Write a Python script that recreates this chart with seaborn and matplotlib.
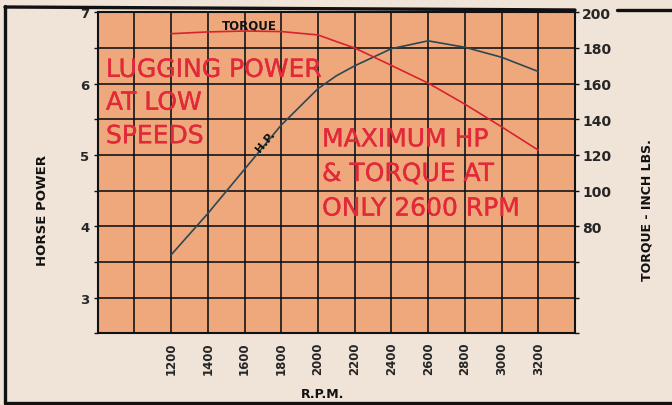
import matplotlib
matplotlib.use("Agg")
import matplotlib.pyplot as plt
from matplotlib.lines import Line2D
import matplotlib.patheffects as pe
import seaborn as sns
import numpy as np
import pandas as pd

# ---- data ----
rpm = [1200, 1400, 1600, 1800, 2000, 2100, 2200, 2400, 2600, 2800, 3000, 3200]
hp = [3.60, 4.18, 4.80, 5.42, 5.93, 6.11, 6.25, 6.49, 6.60, 6.51, 6.37, 6.17]
torque = [188.0, 189.0, 189.5, 189.2, 187.3, 183.6, 180.0, 170.2, 160.3, 148.5, 135.8, 122.7]

x_ticks = [800, 1000, 1200, 1400, 1600, 1800, 2000, 2200, 2400, 2600, 2800, 3000, 3200, 3400]
x_labels = ["", "", "1200", "1400", "1600", "1800", "2000", "2200", "2400", "2600", "2800", "3000", "3200", ""]
hp_ticks = [2.5, 3, 3.5, 4, 4.5, 5, 5.5, 6, 6.5, 7]
hp_labels = ["", "3", "", "4", "", "5", "", "6", "", "7"]
tq_ticks = [20, 40, 60, 80, 100, 120, 140, 160, 180, 200]
tq_labels = ["", "", "", "80", "100", "120", "140", "160", "180", "200"]

df = pd.DataFrame({"rpm": rpm, "hp": hp, "torque": torque})

sns.set_style("white")
plt.rcParams["font.family"] = ["DejaVu Sans"]

W, H = 672, 406
fig = plt.figure(figsize=(W / 100, H / 100), dpi=100)
fig.patch.set_facecolor("#f0e3d8")

left, right, top, bottom = 97.7, 575, 13.3, 334.3
ax = fig.add_axes([left / W, (H - bottom) / H, (right - left) / W, (bottom - top) / H])
ax.set_facecolor("#efa87c")

ax.set_xlim(800, 3400)
ax.set_ylim(2.5, 7)
ax.set_xticks(x_ticks)
ax.set_xticklabels(x_labels, rotation=90, fontsize=8.5, fontweight="bold")
ax.set_yticks(hp_ticks)
ax.set_yticklabels(hp_labels, fontsize=9.5, fontweight="bold")
ax.grid(True, color="#0c0e14", linewidth=1.15)
ax.set_axisbelow(True)
for s in ax.spines.values():
    s.set_color("#111111")
    s.set_linewidth(1.5)
ax.tick_params(axis="x", length=0, pad=6)
ax.tick_params(axis="y", length=3, width=1.0, pad=3, direction="out", color="#111111")

sns.lineplot(data=df, x="rpm", y="hp", ax=ax, color="#2b4852", linewidth=1.2)
ax.set_xlabel("")
ax.set_ylabel("")

ax2 = ax.twinx()
ax2.set_ylim(20, 200)
sns.lineplot(data=df, x="rpm", y="torque", ax=ax2, color="#d9222f", linewidth=1.2)
ax2.set_yticks(tq_ticks)
ax2.set_yticklabels(tq_labels, fontsize=10, fontweight="bold")
ax2.tick_params(axis="y", length=3, width=1.0, pad=2, direction="out", color="#111111")
ax2.set_ylabel("")
ax2.set_xlabel("")
ax2.grid(False)
for s in ax2.spines.values():
    s.set_visible(False)
ax2.set_xlim(800, 3400)

red = "#e2293a"
thick = [pe.withStroke(linewidth=0.25, foreground=red)]
red_kw = dict(color=red, fontsize=18, va="baseline", ha="left", path_effects=thick)
ax.text(845, 6.095, "LUGGING POWER", **red_kw)
ax.text(845, 5.635, "AT LOW", **red_kw)
ax.text(845, 5.165, "SPEEDS", **red_kw)
ax.text(2022, 5.12, "MAXIMUM HP", **red_kw)
ax.text(2022, 4.635, "& TORQUE AT", **red_kw)
ax.text(2022, 4.15, "ONLY 2600 RPM", **red_kw)

ax.text(1625, 6.77, "TORQUE", color="#111111", fontsize=8.5, fontweight="bold",
        ha="center", va="baseline")
ax.text(1713, 5.2, "H.P.", color="#111111", fontsize=8, fontweight="bold",
        ha="center", va="center", rotation=50)

fig.text(43 / W, 1 - 211 / H, "HORSE POWER", rotation=90, fontsize=9.5, fontweight="bold",
         ha="center", va="center", color="#111111")
fig.text(647 / W, 1 - 210 / H, "TORQUE - INCH LBS.", rotation=90, fontsize=9, fontweight="bold",
         ha="center", va="center", color="#111111")
fig.text(323 / W, 1 - 395 / H, "R.P.M.", fontsize=9, fontweight="bold",
         ha="center", va="center", color="#111111")

# scanned page frame
def fline(x0, y0, x1, y1, lw=2.4):
    fig.add_artist(Line2D([x0 / W, x1 / W], [1 - y0 / H, 1 - y1 / H],
                          transform=fig.transFigure, color="#111111", linewidth=lw))

fline(5, 7, 5, 404)
fline(5, 8, 575, 11)
fline(617, 11, 672, 11)
fline(5, 404, 672, 404)

fig.savefig("out.png", dpi=100, facecolor=fig.get_facecolor())
